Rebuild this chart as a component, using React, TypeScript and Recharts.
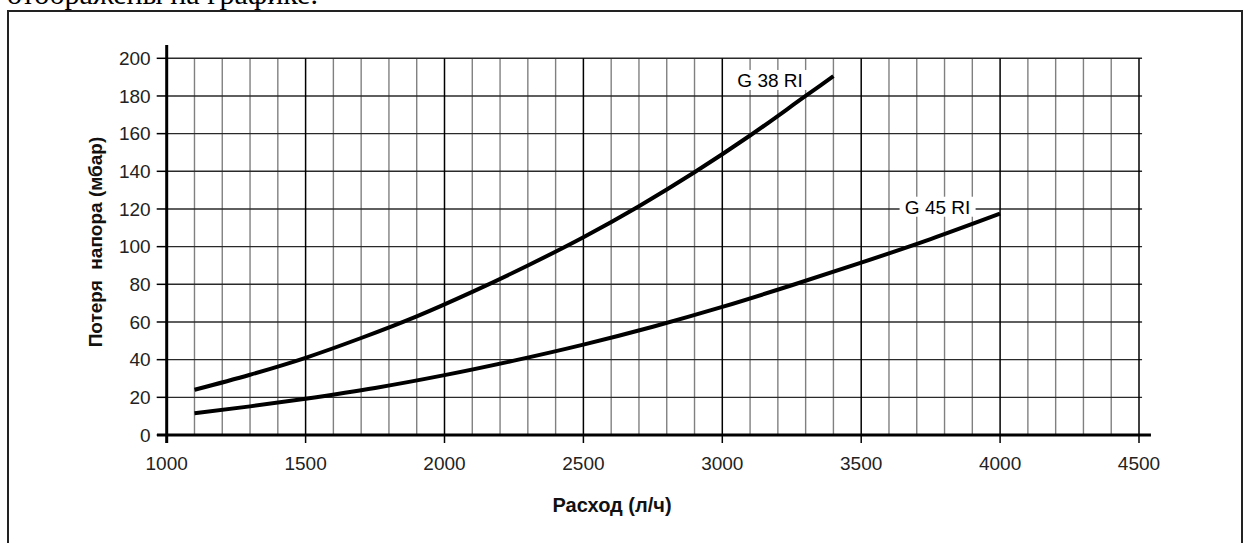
import React from 'react';
import { LineChart, Line, XAxis, YAxis, ReferenceLine, ReferenceDot } from 'recharts';

// Расход (л/ч) vs потеря напора (мбар)
const g38Flow = [1100, 1300, 1500, 1700, 1900, 2100, 2300, 2500, 2700, 2900, 3100, 3300, 3400];
const g38Loss = [24, 32, 41, 51.5, 63, 76, 90, 105, 121.5, 139.5, 159, 180, 190.5];
const g45Flow = [1100, 1300, 1500, 1750, 2000, 2250, 2500, 2750, 3000, 3250, 3500, 3750, 4000];
const g45Loss = [11.5, 15.2, 19.3, 25, 31.8, 39.5, 48, 57.5, 68, 79.5, 91.5, 104, 117.5];

const xTicks = [1000, 1500, 2000, 2500, 3000, 3500, 4000, 4500];
const yTicks = [0, 20, 40, 60, 80, 100, 120, 140, 160, 180, 200];

const seriesNames = ['G 38 RI', 'G 45 RI'];
const xTitle = 'Расход (л/ч)';
const yTitle = 'Потеря  напора (мбар)';
const topText = 'отображены на графике.';

const g38Data = g38Flow.map((x, i) => ({ x, y: g38Loss[i] }));
const g45Data = g45Flow.map((x, i) => ({ x, y: g45Loss[i] }));

// grid: minor every 100 l/h, major every 500
const minorX: number[] = [];
for (let v = 1100; v < 4500; v += 100) {
    if (v % 500 !== 0) minorX.push(v);
}
const majorX = xTicks.filter(v => v > 1000);
const gridY = yTicks.filter(v => v > 0);

const FONT = '"Liberation Sans", Arial, sans-serif';

function LabelBox(props: any) {
    const { cx, cy, text } = props;
    const w = 76;
    const h = 20;
    return (
        <g>
            <rect x={cx - w / 2} y={cy - h / 2} width={w} height={h} fill="#fff" />
            <text x={cx} y={cy} dy="0.36em" textAnchor="middle" fontFamily={FONT} fontSize={19} fill="#000">{text}</text>
        </g>
    );
}

export default function App() {
    return (
        <div style={{ position: 'absolute', left: 0, top: 0, width: 1245, height: 543, overflow: 'hidden', background: '#fff' }}>
            <div style={{ position: 'absolute', left: 7, top: -23, fontFamily: '"Liberation Serif", "Times New Roman", serif', fontSize: 30, color: '#000', whiteSpace: 'nowrap' }}>
                {topText}
            </div>
            <div style={{ position: 'absolute', left: 7, top: 10, width: 1232, height: 560, border: '2px solid #222' }} />

            <div style={{ position: 'absolute', left: 0, top: 0 }}>
                <LineChart width={1245} height={543} margin={{ top: 58.3, right: 106, bottom: 48, left: 106.7 }}>
                    <XAxis
                        dataKey="x"
                        type="number"
                        domain={[1000, 4500]}
                        ticks={xTicks}
                        interval={0}
                        allowDataOverflow
                        axisLine={false}
                        tickLine={{ stroke: '#000', strokeWidth: 1.5 }}
                        tickSize={8}
                        tickMargin={14}
                        height={60}
                        tick={{ fontFamily: FONT, fontSize: 19, fill: '#222' }}
                    />
                    <YAxis
                        type="number"
                        domain={[0, 200]}
                        ticks={yTicks}
                        interval={0}
                        allowDataOverflow
                        axisLine={false}
                        tickLine={{ stroke: '#000', strokeWidth: 1.5 }}
                        tickSize={10}
                        tickMargin={6}
                        width={60}
                        tick={{ fontFamily: FONT, fontSize: 19, fill: '#222' }}
                    />

                    {minorX.map(v => (
                        <ReferenceLine key={'mx' + v} segment={[{ x: v, y: 0 }, { x: v, y: 200 }]} stroke="#808080" strokeWidth={1.4} ifOverflow="visible" />
                    ))}
                    {gridY.map(v => (
                        <ReferenceLine key={'gy' + v} segment={[{ x: 1000, y: v }, { x: 4511, y: v }]} stroke="#2a2a2a" strokeWidth={1.4} ifOverflow="visible" />
                    ))}
                    {majorX.map(v => (
                        <ReferenceLine key={'Mx' + v} segment={[{ x: v, y: 0 }, { x: v, y: 200 }]} stroke="#000" strokeWidth={1.5} ifOverflow="visible" />
                    ))}
                    {/* axes drawn as segments so they can overshoot the plot */}
                    <ReferenceLine segment={[{ x: 965, y: 0 }, { x: 4543, y: 0 }]} stroke="#000" strokeWidth={3} ifOverflow="visible" />
                    <ReferenceLine segment={[{ x: 1000, y: -4.3 }, { x: 1000, y: 207 }]} stroke="#000" strokeWidth={3} ifOverflow="visible" />

                    <Line data={g38Data} dataKey="y" type="monotone" stroke="#000" strokeWidth={4} dot={false} isAnimationActive={false} name={seriesNames[0]} />
                    <Line data={g45Data} dataKey="y" type="monotone" stroke="#000" strokeWidth={4} dot={false} isAnimationActive={false} name={seriesNames[1]} />

                    <ReferenceDot x={3172} y={188.5} r={0} ifOverflow="visible" shape={(p: any) => <LabelBox {...p} text={seriesNames[0]} />} />
                    <ReferenceDot x={3775} y={121.2} r={0} ifOverflow="visible" shape={(p: any) => <LabelBox {...p} text={seriesNames[1]} />} />
                </LineChart>
            </div>

            <div style={{ position: 'absolute', left: 96, top: 242, transform: 'translate(-50%, -50%) rotate(-90deg)', fontFamily: FONT, fontWeight: 'bold', fontSize: 19, color: '#111', whiteSpace: 'pre' }}>
                {yTitle}
            </div>
            <div style={{ position: 'absolute', left: 612, top: 505, transform: 'translate(-50%, -50%)', fontFamily: FONT, fontWeight: 'bold', fontSize: 20, color: '#111', whiteSpace: 'pre' }}>
                {xTitle}
            </div>
        </div>
    );
}
